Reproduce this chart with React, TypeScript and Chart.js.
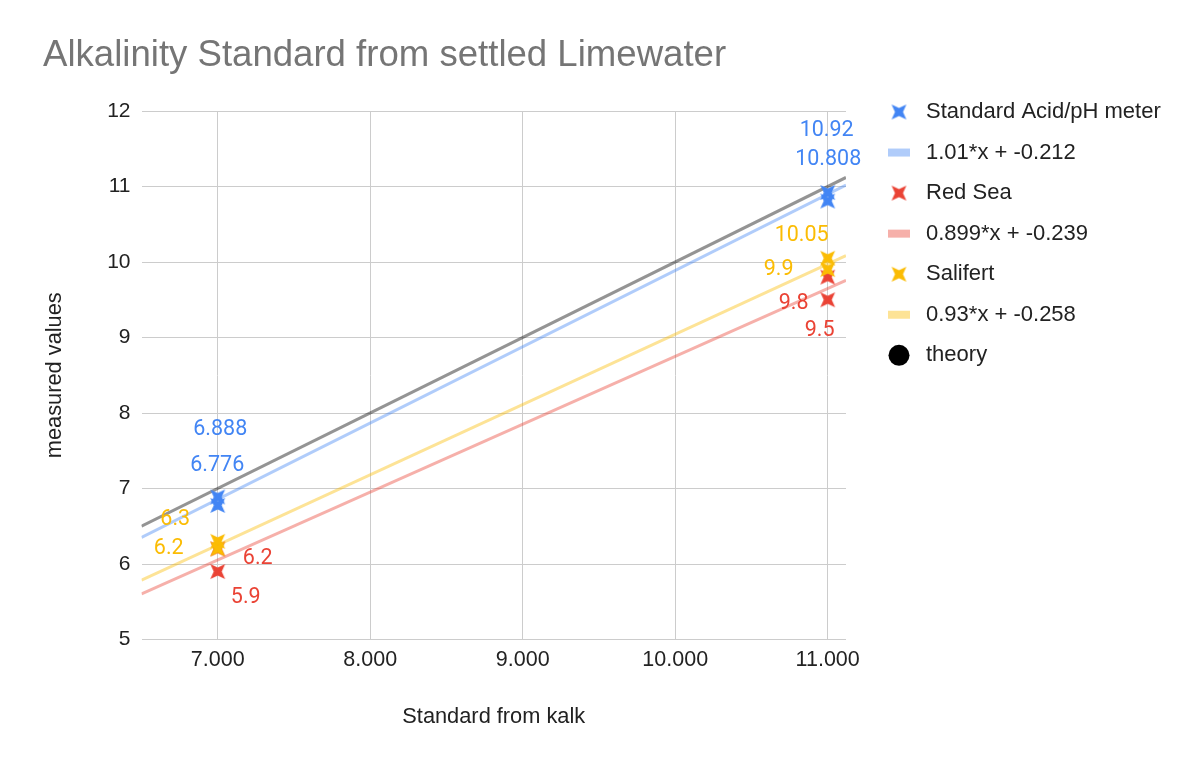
import React, { useEffect, useRef } from "react";
import { Chart, registerables } from "chart.js";

Chart.register(...registerables);

// ---------- data ----------
const TITLE = "Alkalinity Standard from settled Limewater";
const X_TITLE = "Standard from kalk";
const Y_TITLE = "measured values";

const X_TICKS = [7, 8, 9, 10, 11];
const Y_TICKS = [5, 6, 7, 8, 9, 10, 11, 12];
const X_MIN = 6.5;
const X_MAX = 11.12;
const Y_MIN = 5;
const Y_MAX = 12;

const SERIES_NAMES = ["Standard Acid/pH meter", "Red Sea", "Salifert"];
const acidX = [7, 7, 11, 11];
const acidY = [6.888, 6.776, 10.92, 10.808];
const redSeaX = [7, 7, 11, 11];
const redSeaY = [6.2, 5.9, 9.8, 9.5];
const salifertX = [7, 7, 11, 11];
const salifertY = [6.3, 6.2, 10.05, 9.9];

const TREND_SLOPES = [1.01, 0.899, 0.93];
const TREND_INTERCEPTS = [-0.212, -0.239, -0.258];

const THEORY_NAME = "theory";
const THEORY_SLOPE = 1;
const THEORY_INTERCEPT = 0;

// ---------- styles ----------
const SANS = "'Liberation Sans', Arial, Helvetica, sans-serif";
const ROBOTO = "Roboto, 'Liberation Sans', Arial, sans-serif";
const SERIES_COLORS = ["#4285F4", "#EA4335", "#FBBC04"];
const TREND_COLORS = [
  "rgba(66,133,244,0.42)",
  "rgba(234,67,53,0.42)",
  "rgba(251,188,4,0.42)",
];
const THEORY_COLOR = "rgba(0,0,0,0.42)";
const TEXT_COLOR = "#222222";

// label offsets (px) relative to each point, per series
const LABEL_OFFSETS: number[][][] = [
  [[2.5, -67], [-0.5, -40], [-1, -61.5], [0.5, -41]],
  [[40, 10], [28, 26], [-34, 27], [-8, 31]],
  [[-42.5, -21.6], [-49, 0], [-26, -22.7], [-49, 0]],
];

const seriesX = [acidX, redSeaX, salifertX];
const seriesY = [acidY, redSeaY, salifertY];

function trendLabel(i: number) {
  return `${TREND_SLOPES[i]}*x + ${TREND_INTERCEPTS[i]}`;
}

function makeStar(color: string, outer = 10.5, inner = 4) {
  const size = Math.ceil(outer * 2) + 2;
  const c = document.createElement("canvas");
  c.width = size;
  c.height = size;
  const g = c.getContext("2d")!;
  const cx = size / 2;
  g.beginPath();
  for (let i = 0; i < 8; i++) {
    const a = Math.PI / 4 + (i * Math.PI) / 4;
    const r = i % 2 === 0 ? outer : inner;
    const px = cx + r * Math.cos(a);
    const py = cx + r * Math.sin(a);
    if (i === 0) g.moveTo(px, py);
    else g.lineTo(px, py);
  }
  g.closePath();
  g.fillStyle = color;
  g.fill();
  return c;
}

export default function App() {
  const ref = useRef<HTMLCanvasElement>(null);

  useEffect(() => {
    const stars = SERIES_COLORS.map((c) => makeStar(c));

    const pointSets: any[] = SERIES_NAMES.map((name, i) => ({
      type: "scatter",
      label: name,
      data: seriesX[i].map((x, j) => ({ x, y: seriesY[i][j] })),
      pointStyle: stars[i],
      pointRadius: 10,
      showLine: false,
      order: 2 - i,
      seriesIndex: i,
    }));

    const trendSets: any[] = SERIES_NAMES.map((_, i) => ({
      type: "scatter",
      label: trendLabel(i),
      data: [X_MIN, X_MAX].map((x) => ({
        x,
        y: TREND_SLOPES[i] * x + TREND_INTERCEPTS[i],
      })),
      showLine: true,
      borderColor: TREND_COLORS[i],
      borderWidth: 3,
      pointRadius: 0,
      order: 10 + i,
    }));

    const theorySet: any = {
      type: "scatter",
      label: THEORY_NAME,
      data: [X_MIN, X_MAX].map((x) => ({
        x,
        y: THEORY_SLOPE * x + THEORY_INTERCEPT,
      })),
      showLine: true,
      borderColor: THEORY_COLOR,
      borderWidth: 3,
      pointRadius: 0,
      order: 20,
    };

    const labelPlugin = {
      id: "pointLabels",
      afterDatasetsDraw(chart: any) {
        const ctx = chart.ctx;
        ctx.save();
        ctx.font = `21.5px ${ROBOTO}`;
        ctx.textAlign = "center";
        ctx.textBaseline = "middle";
        chart.data.datasets.forEach((ds: any, di: number) => {
          if (ds.seriesIndex === undefined) return;
          const s = ds.seriesIndex;
          const meta = chart.getDatasetMeta(di);
          ctx.fillStyle = SERIES_COLORS[s];
          meta.data.forEach((el: any, j: number) => {
            const off = LABEL_OFFSETS[s][j];
            ctx.fillText(String(seriesY[s][j]), el.x + off[0], el.y + off[1]);
          });
        });
        ctx.restore();
      },
    };

    const legendPlugin = {
      id: "sideLegend",
      afterDraw(chart: any) {
        const ctx = chart.ctx;
        const items: { kind: string; color: any; text: string }[] = [];
        SERIES_NAMES.forEach((n, i) => {
          items.push({ kind: "star", color: i, text: n });
          items.push({ kind: "rect", color: TREND_COLORS[i], text: trendLabel(i) });
        });
        items.push({ kind: "circle", color: "#000000", text: THEORY_NAME });
        ctx.save();
        ctx.font = `22px ${SANS}`;
        ctx.textAlign = "left";
        ctx.textBaseline = "middle";
        const mx = 899;
        const tx = 926;
        const y0 = 112;
        const step = 40.55;
        items.forEach((it, k) => {
          const y = y0 + k * step;
          if (it.kind === "star") {
            const img = stars[it.color];
            ctx.drawImage(img, mx - img.width / 2, y - img.height / 2);
          } else if (it.kind === "rect") {
            ctx.fillStyle = it.color;
            ctx.fillRect(mx - 11, y - 4, 22, 8);
          } else {
            ctx.fillStyle = it.color;
            ctx.beginPath();
            ctx.arc(mx, y, 10.5, 0, Math.PI * 2);
            ctx.fill();
          }
          ctx.fillStyle = TEXT_COLOR;
          ctx.fillText(it.text, tx, y);
        });
        ctx.restore();
      },
    };

    const chart = new Chart(ref.current!, {
      type: "scatter",
      data: { datasets: [...pointSets, ...trendSets, theorySet] },
      options: {
        animation: false,
        responsive: false,
        devicePixelRatio: 1,
        events: [],
        layout: { padding: { left: 43, right: 354, top: 0, bottom: 0 } },
        plugins: {
          legend: { display: false },
          tooltip: { enabled: false },
          title: {
            display: true,
            text: TITLE,
            align: "start",
            color: "#757575",
            font: { family: SANS, size: 36.6, weight: "normal", lineHeight: 1.2 },
            padding: { top: 34.4, bottom: 32.7 },
          },
        },
        scales: {
          x: {
            type: "linear",
            min: X_MIN,
            max: X_MAX,
            afterBuildTicks: (s: any) => {
              s.ticks = X_TICKS.map((v) => ({ value: v }));
            },
            afterFit: (s: any) => {
              s.height = 127.5;
            },
            grid: { color: "#cccccc", lineWidth: 1, drawTicks: false },
            border: { display: false },
            ticks: {
              color: TEXT_COLOR,
              font: { family: SANS, size: 21.5 },
              padding: 8.1,
              maxRotation: 0,
              callback: (v: any) => Number(v).toFixed(3),
            },
            title: {
              display: true,
              text: X_TITLE,
              color: TEXT_COLOR,
              font: { family: SANS, size: 21.8 },
              padding: { top: 0, bottom: 37 },
            },
          },
          y: {
            type: "linear",
            min: Y_MIN,
            max: Y_MAX,
            afterBuildTicks: (s: any) => {
              s.ticks = Y_TICKS.map((v) => ({ value: v }));
            },
            afterFit: (s: any) => {
              s.width = 98.5;
            },
            grid: { color: "#cccccc", lineWidth: 1, drawTicks: false },
            border: { display: false },
            ticks: {
              color: TEXT_COLOR,
              font: { family: SANS, size: 21 },
              padding: 11,
              callback: (v: any) => String(v),
            },
            title: {
              display: true,
              text: Y_TITLE,
              color: TEXT_COLOR,
              font: { family: SANS, size: 21.8, lineHeight: 1.1 },
              padding: { top: 0, bottom: 0 },
            },
          },
        },
      } as any,
      plugins: [labelPlugin, legendPlugin],
    } as any);

    return () => chart.destroy();
  }, []);

  return (
    <div
      style={{
        position: "absolute",
        left: 0,
        top: 0,
        width: 1200,
        height: 767,
        background: "#ffffff",
      }}
    >
      <canvas
        ref={ref}
        width={1200}
        height={767}
        style={{ display: "block", width: 1200, height: 767 }}
      />
    </div>
  );
}
